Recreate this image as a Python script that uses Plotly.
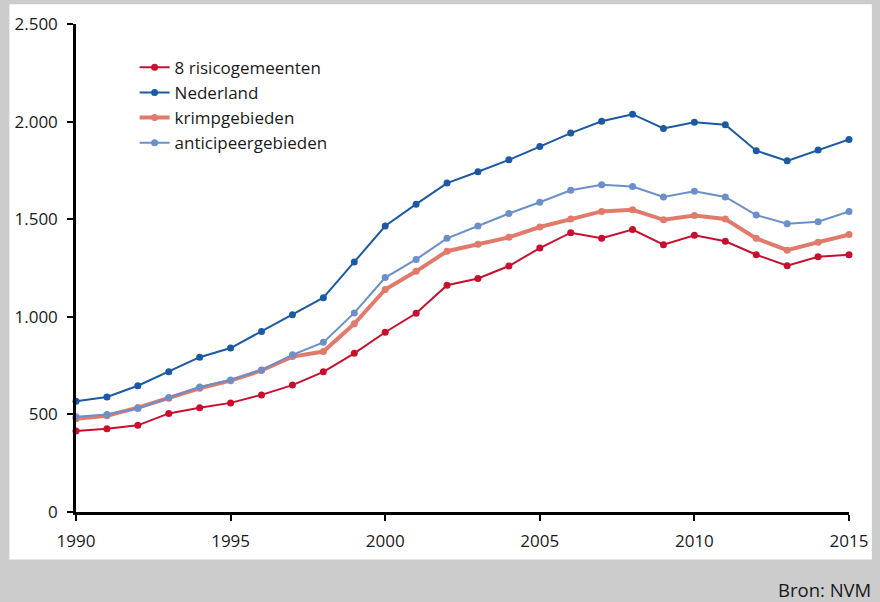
import plotly.graph_objects as go

years = list(range(1990, 2016))

risico = [415, 427, 444, 505, 534, 559, 600, 650, 718, 813, 921, 1018, 1162, 1196,
          1260, 1352, 1431, 1402, 1447, 1369, 1418, 1387, 1318, 1262, 1308, 1318]
nederland = [567, 589, 647, 718, 793, 840, 925, 1010, 1098, 1281, 1465, 1577, 1685, 1743,
             1804, 1872, 1941, 2002, 2038, 1965, 1997, 1984, 1851, 1799, 1855, 1908]
krimp = [478, 493, 535, 583, 634, 673, 725, 796, 822, 964, 1140, 1233, 1336, 1372,
         1407, 1460, 1501, 1540, 1548, 1497, 1519, 1501, 1402, 1341, 1382, 1421]
anticipeer = [488, 500, 530, 586, 640, 676, 727, 805, 869, 1020, 1201, 1294, 1402, 1465,
              1529, 1587, 1648, 1677, 1667, 1614, 1643, 1614, 1521, 1477, 1487, 1540]

series = [
    ("8 risicogemeenten", risico, "#c8102e", 2),
    ("Nederland", nederland, "#1b5aa3", 2),
    ("krimpgebieden", krimp, "#e27a6c", 4),
    ("anticipeergebieden", anticipeer, "#6a8fc9", 2),
]

font_family = "Open Sans, Noto Sans, sans-serif"

fig = go.Figure()
for i, (name, vals, color, w) in enumerate(series):
    fig.add_trace(go.Scatter(
        x=years, y=vals, name=name, mode="lines+markers",
        line=dict(color=color, width=w),
        marker=dict(color=color, size=7),
        cliponaxis=False,
    ))

W, H = 880, 602
L, R, T, B = 76, 26, 20, 90
pw, ph = W - L - R, H - T - B

def px_x(p):
    return (p - L) / pw

def px_y(p):
    return (H - B - p) / ph

fig.add_shape(type="rect", xref="paper", yref="paper",
              x0=px_x(9), x1=px_x(877), y0=px_y(560), y1=px_y(0),
              fillcolor="white", line=dict(width=0), layer="below")

fig.add_annotation(text="Bron: NVM", xref="paper", yref="paper",
                   x=px_x(878), y=px_y(590), xanchor="right", yanchor="middle",
                   showarrow=False, font=dict(size=18.5, color="#1a1a1a", family=font_family))

fig.update_layout(
    width=W, height=H,
    margin=dict(l=L, r=R, t=T, b=B),
    paper_bgcolor="#cccccc",
    plot_bgcolor="rgba(0,0,0,0)",
    separators=",.",
    font=dict(family=font_family, size=17, color="#1a1a1a"),
    showlegend=True,
    legend=dict(
        x=px_x(135), y=px_y(46), xanchor="left", yanchor="top",
        bgcolor="rgba(0,0,0,0)", borderwidth=0,
        font=dict(size=17, family=font_family, color="#1a1a1a"),
        itemwidth=30,
    ),
    xaxis=dict(
        range=[1990, 2015], tickvals=[1990, 1995, 2000, 2005, 2010, 2015],
        showgrid=False, zeroline=False,
        showline=True, linecolor="black", linewidth=2.5,
        ticks="outside", ticklen=6, tickwidth=2, tickcolor="black",
        tickfont=dict(size=17), ticklabelstandoff=6,
    ),
    yaxis=dict(
        range=[0, 2500], tickvals=[0, 500, 1000, 1500, 2000, 2500],
        tickformat=",d",
        showgrid=False, zeroline=False,
        showline=True, linecolor="black", linewidth=2.5,
        ticks="outside", ticklen=6, tickwidth=2, tickcolor="black",
        tickfont=dict(size=17), ticklabelstandoff=6,
    ),
)

fig.write_html("out.html", config={"displayModeBar": False},
               post_script="document.body.style.margin='0';document.body.style.overflow='hidden';")
